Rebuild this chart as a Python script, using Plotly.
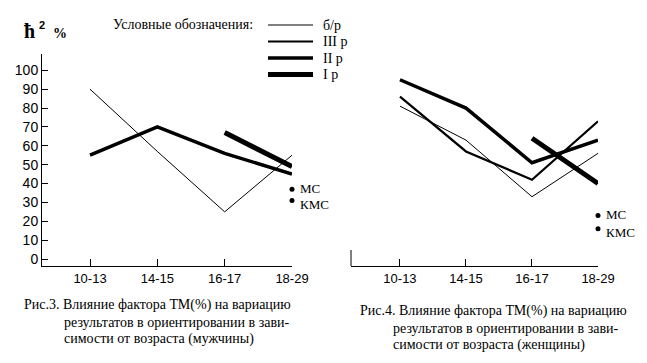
import plotly.graph_objects as go

categories = ["10-13", "14-15", "16-17", "18-29"]
y_ticks = [0, 10, 20, 30, 40, 50, 60, 70, 80, 90, 100]

# Left chart (men)
men_br = [90, 57, 25, 55]
men_II = [55, 70, 56, 45]
men_I = [None, None, 67, 49]
men_ms = 37
men_kms = 31

# Right chart (women)
women_br = [81, 63, 33, 56]
women_III = [86, 57, 42, 73]
women_II = [95, 80, 51, 63]
women_I = [None, None, 64, 40]
women_ms = 23
women_kms = 16

legend_title = "Условные обозначения:"
legend_labels = ["б/р", "III р", "II р", "I р"]
legend_widths = [1, 2.2, 3.5, 5]

caption_left = ["Рис.3. Влияние фактора ТМ(%) на вариацию",
                "результатов в ориентировании в зави-",
                "симости от возраста (мужчины)"]
caption_right = ["Рис.4. Влияние фактора ТМ(%) на вариацию",
                 "результатов в ориентировании в зави-",
                 "симости от возраста (женщины)"]

W, H = 647, 363
SERIF = "Liberation Serif"
SANS = "Liberation Sans"


def px(x):
    return x / W


def py(y):
    return 1 - y / H


def yval(p):
    return (259 - p) / 1.887


fig = go.Figure()


def line(x, y, w, xa, ya):
    fig.add_trace(go.Scatter(x=x, y=y, mode="lines", xaxis=xa, yaxis=ya,
                             line=dict(color="black", width=w),
                             connectgaps=False, showlegend=False, hoverinfo="skip"))


line(categories, men_br, 1, "x", "y")
line(categories, men_II, 3.5, "x", "y")
line(categories, men_I, 5, "x", "y")

line(categories, women_br, 1, "x2", "y2")
line(categories, women_III, 2.2, "x2", "y2")
line(categories, women_II, 3.5, "x2", "y2")
line(categories, women_I, 5, "x2", "y2")

annotations = []
for xa, ya, vals in [("x", "y", [men_ms, men_kms]), ("x2", "y2", [women_ms, women_kms])]:
    fig.add_trace(go.Scatter(x=[categories[3], categories[3]], y=vals, mode="markers",
                             xaxis=xa, yaxis=ya,
                             marker=dict(color="black", size=5),
                             cliponaxis=False, showlegend=False, hoverinfo="skip"))
    for lbl, v, ys in zip(["МС", "КМС"], vals, [1, -4]):
        annotations.append(dict(text=lbl, xref=xa, yref=ya, x=categories[3], y=v,
                                xanchor="left", yanchor="middle", xshift=6, yshift=ys,
                                showarrow=False,
                                font=dict(family=SERIF, size=13, color="black")))

yr = [yval(266), yval(54)]
common_x = dict(type="category", showline=True, linecolor="black", linewidth=1,
                ticks="inside", ticklen=7, tickcolor="black", tickwidth=1,
                showgrid=False, zeroline=False, automargin=False,
                tickfont=dict(family=SANS, size=13, color="black"))

fig.update_layout(
    template="none",
    width=W, height=H, margin=dict(l=0, r=0, t=0, b=0, pad=0, autoexpand=False),
    paper_bgcolor="white", plot_bgcolor="white",
    showlegend=False,
    xaxis=dict(domain=[px(42), px(292)], range=[-0.713, 3.0], anchor="y", **common_x),
    yaxis=dict(domain=[py(266), py(54)], range=yr, anchor="x", automargin=False,
               showline=True, linecolor="black", linewidth=1,
               ticks="inside", ticklen=6, tickcolor="black",
               tickvals=y_ticks, ticktext=[str(v) for v in y_ticks],
               showgrid=False, zeroline=False,
               tickfont=dict(family=SANS, size=14, color="black")),
    xaxis2=dict(domain=[px(351), px(598)], range=[-0.742, 3.0], anchor="y2", **common_x),
    yaxis2=dict(domain=[py(266), py(54)], range=yr, anchor="x2", automargin=False,
                showline=False, showticklabels=False, ticks="",
                showgrid=False, zeroline=False),
)

shapes = [dict(type="line", xref="paper", yref="paper", x0=px(351), x1=px(351),
               y0=py(250), y1=py(266), line=dict(color="black", width=1))]
legend_y = [25, 41.5, 58, 74.5]
for lbl, w, yy in zip(legend_labels, legend_widths, legend_y):
    shapes.append(dict(type="line", xref="paper", yref="paper", x0=px(268), x1=px(313),
                       y0=py(yy), y1=py(yy), line=dict(color="black", width=w)))
    annotations.append(dict(text=lbl, xref="paper", yref="paper", x=px(321), y=py(yy),
                            xanchor="left", yanchor="middle", showarrow=False,
                            font=dict(family=SERIF, size=14, color="black")))
annotations.append(dict(text=legend_title, xref="paper", yref="paper", x=px(111), y=py(24),
                        xanchor="left", yanchor="middle", showarrow=False,
                        font=dict(family=SERIF, size=14, color="black")))

# Axis title ħ² %
annotations.append(dict(text="<b>ħ</b>", xref="paper", yref="paper", x=px(22), y=py(31),
                        xanchor="left", yanchor="middle", showarrow=False,
                        font=dict(family=SERIF, size=20, color="black")))
annotations.append(dict(text="<b>2</b>", xref="paper", yref="paper", x=px(37), y=py(25),
                        xanchor="left", yanchor="middle", showarrow=False,
                        font=dict(family=SANS, size=11, color="black")))
annotations.append(dict(text="<b>%</b>", xref="paper", yref="paper", x=px(51), y=py(33),
                        xanchor="left", yanchor="middle", showarrow=False,
                        font=dict(family=SERIF, size=14, color="black")))

for lines, x0, x1, ys in [(caption_left, 22, 62, [305, 322, 339]),
                          (caption_right, 358, 391, [311, 328, 345])]:
    for i, (t, yy) in enumerate(zip(lines, ys)):
        annotations.append(dict(text=t, xref="paper", yref="paper",
                                x=px(x0 if i == 0 else x1), y=py(yy),
                                xanchor="left", yanchor="middle", showarrow=False,
                                font=dict(family=SERIF, size=14, color="black")))

fig.update_layout(shapes=shapes, annotations=annotations)
fig.write_html("out.html", config={"displayModeBar": False},
               post_script="document.body.style.margin='0px';document.body.style.padding='0px';")
